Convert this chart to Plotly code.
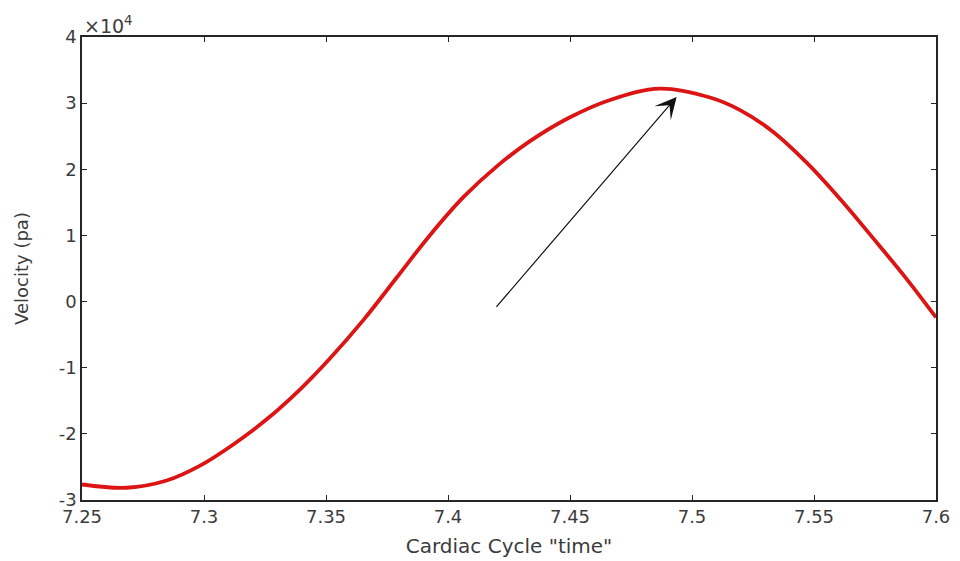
import plotly.graph_objects as go

# Data (time in s, value in Pa)
time_s = [7.2500, 7.2683, 7.2847, 7.2984, 7.3120, 7.3257, 7.3393, 7.3516, 7.3653,
          7.3790, 7.3926, 7.4063, 7.4200, 7.4336, 7.4500, 7.4664, 7.4869, 7.5074,
          7.5197, 7.5333, 7.5470, 7.5607, 7.5743, 7.5880, 7.6000]
velocity_pa = [-27650, -28150, -27050, -24800, -21600, -17800, -13300, -8600, -2800,
               3640, 10030, 15780, 20440, 24250, 27860, 30480, 32200, 30850,
               28950, 25650, 21000, 15500, 9550, 3400, -2400]

x_tickvals = [7.25, 7.3, 7.35, 7.4, 7.45, 7.5, 7.55, 7.6]
x_ticktext = ["7.25", "7.3", "7.35", "7.4", "7.45", "7.5", "7.55", "7.6"]
y_tickvals = [-30000, -20000, -10000, 0, 10000, 20000, 30000, 40000]
y_ticktext = ["-3", "-2", "-1", "0", "1", "2", "3", "4"]

arrow_tail = (7.4193, -1030)
arrow_tip = (7.4937, 30940)

TXT = "#3c3c3c"
AX = "#262626"
FONT = "DejaVu Sans"

fig = go.Figure()
fig.add_trace(go.Scatter(
    x=time_s, y=velocity_pa, mode="lines",
    line=dict(color="#dc1414", width=3.8, shape="spline", smoothing=1.0),
    showlegend=False, hoverinfo="skip",
))

axis_common = dict(
    showline=True, linecolor=AX, linewidth=1.5, mirror="ticks",
    ticks="inside", ticklen=5, tickwidth=1.2, tickcolor=AX,
    showgrid=False, zeroline=False, automargin=False,
    tickfont=dict(family=FONT, size=18, color=TXT),
)

fig.update_xaxes(
    range=[7.25, 7.6], tickmode="array", tickvals=x_tickvals, ticktext=x_ticktext,
    title=dict(text='Cardiac Cycle "time"', font=dict(family=FONT, size=20, color=TXT), standoff=13),
    **axis_common,
)
fig.update_yaxes(
    range=[-30000, 40000], tickmode="array", tickvals=y_tickvals, ticktext=y_ticktext,
    title=dict(text="Velocity (pa)", font=dict(family=FONT, size=18, color=TXT), standoff=25),
    **axis_common,
)

fig.add_annotation(
    x=arrow_tip[0], y=arrow_tip[1], ax=arrow_tail[0], ay=arrow_tail[1],
    xref="x", yref="y", axref="x", ayref="y",
    text="", showarrow=True, arrowhead=3, arrowsize=3.0, arrowwidth=1.2,
    arrowcolor="#111111", standoff=0,
)
fig.add_annotation(
    x=0, y=1, xref="paper", yref="paper", xanchor="left", yanchor="bottom",
    text="×10<sup>4</sup>", showarrow=False, xshift=0, yshift=-2,
    font=dict(family=FONT, size=19, color=TXT),
)

fig.update_layout(
    width=960, height=561,
    margin=dict(l=82, r=24, t=37, b=61, pad=0),
    plot_bgcolor="white", paper_bgcolor="white",
)

fig.write_html("out.html", config={"displayModeBar": False},
               post_script="document.body.style.margin='0';")
